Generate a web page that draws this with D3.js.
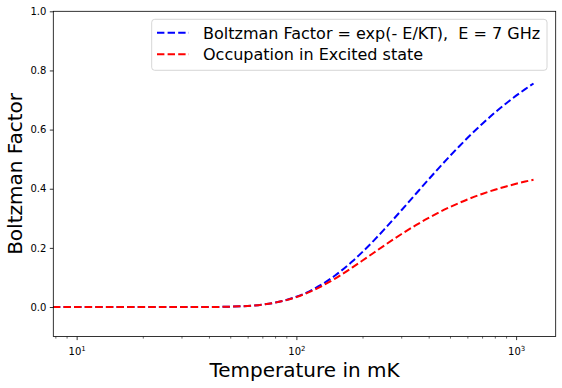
<!DOCTYPE html>
<html><head><meta charset="utf-8">
<script src="https://cdn.jsdelivr.net/npm/d3@7"></script>
<style>body{margin:0;background:#fff}svg{display:block}text{font-family:"DejaVu Sans",sans-serif}</style>
</head><body>
<svg id="c" width="562" height="388"></svg>
<script>
const temperatures = [5,6,7,8,9,10,12,15,20,25,30,40,50,60,70,80,90,100,110,120,130,140,150,160,180,200,225,250,275,300,350,400,450,500,550,600,700,800,900,1000,1100,1200];
const boltzmann = [0,0,0,0,0,0,0,0,0,0,0.00001,0.000225,0.00121,0.0037,0.00824,0.015,0.0239,0.0348,0.0472,0.0609,0.0755,0.0908,0.1065,0.1226,0.1547,0.1865,0.2247,0.2609,0.2948,0.3264,0.383,0.4318,0.4741,0.5108,0.5429,0.5713,0.6188,0.6571,0.6885,0.7147,0.7368,0.7558];
const occupation = [0,0,0,0,0,0,0,0,0,0,0.00001,0.000225,0.00121,0.00369,0.00817,0.0148,0.0233,0.0336,0.0451,0.0574,0.0702,0.0832,0.0963,0.1092,0.134,0.1572,0.1835,0.2069,0.2277,0.2461,0.2769,0.3016,0.3216,0.3381,0.3519,0.3636,0.3823,0.3965,0.4077,0.4168,0.4242,0.4305];
const yTicks = [0.0,0.2,0.4,0.6,0.8,1.0];
const xMajorTicks = [10,100,1000];
const xExponents = ["1","2","3"];
const seriesNames = ["Boltzman Factor = exp(- E/KT),  E = 7 GHz","Occupation in Excited state"];
const seriesColors = ["#0000ff","#ff0000"];
const xDomain = [7.83,1514];
const yDomain = [-0.1,1.0];

const svg = d3.select("#c");
const L=53.3,R=555.7,T=11.3,B=336.6;
const x = d3.scaleLog().domain(xDomain).range([L,R]);
const y = d3.scaleLinear().domain(yDomain).range([B,T]);

svg.append("clipPath").attr("id","clip").append("rect").attr("x",L).attr("y",T).attr("width",R-L).attr("height",B-T);

const line = d3.line().x((d,i)=>x(temperatures[i])).y(d=>y(d)).curve(d3.curveMonotoneX);
[boltzmann,occupation].forEach((s,k)=>{
  svg.append("path").attr("d",line(s)).attr("fill","none").attr("stroke",seriesColors[k])
    .attr("stroke-width",2).attr("stroke-dasharray","7.4,3.2").attr("clip-path","url(#clip)");
});

// y axis
const ya = svg.append("g").attr("transform",`translate(${L},0)`)
  .call(d3.axisLeft(y).tickValues(yTicks).tickFormat(d3.format(".1f")).tickSize(3.5).tickPadding(3.5));
ya.select(".domain").remove();
ya.selectAll("text").attr("font-size",10).attr("fill","#000").attr("font-family","DejaVu Sans");
ya.selectAll("line").attr("stroke","#000").attr("stroke-width",0.8);

// x axis minor
const minor=[];
[1,10,100,1000].forEach(p=>{for(let m=2;m<=9;m++){const v=p*m;if(v>=xDomain[0]&&v<=xDomain[1])minor.push(v);}});
const xm = svg.append("g").attr("transform",`translate(0,${B})`)
  .call(d3.axisBottom(x).tickValues(minor).tickFormat("").tickSize(2));
xm.select(".domain").remove();
xm.selectAll("line").attr("stroke","#000").attr("stroke-width",0.6);
const xa = svg.append("g").attr("transform",`translate(0,${B})`)
  .call(d3.axisBottom(x).tickValues(xMajorTicks).tickFormat("").tickSize(3.5));
xa.select(".domain").remove();
xa.selectAll("line").attr("stroke","#000").attr("stroke-width",0.8);
xa.selectAll(".tick").each(function(d,i){
  const t=d3.select(this).append("text").attr("y",18.5).attr("text-anchor","middle").attr("font-size",10).attr("fill","#000");
  t.append("tspan").text("10");
  t.append("tspan").attr("dy",-4).attr("font-size",7).text(xExponents[i]);
});

svg.append("rect").attr("x",L).attr("y",T).attr("width",R-L).attr("height",B-T).attr("fill","none").attr("stroke","#000").attr("stroke-width",0.8);

// labels
svg.append("text").attr("x",(L+R)/2).attr("y",377).attr("text-anchor","middle").attr("font-size",20).attr("fill","#000").text("Temperature in mK");
svg.append("text").attr("transform",`translate(21.5,${(T+B)/2}) rotate(-90)`).attr("text-anchor","middle").attr("font-size",20).attr("fill","#000").text("Boltzman Factor");

// legend
const lg = svg.append("g");
lg.append("rect").attr("x",151.7).attr("y",19.3).attr("width",395.3).attr("height",51).attr("rx",3)
  .attr("fill","#fff").attr("fill-opacity",0.8).attr("stroke","#cccccc").attr("stroke-width",0.8);
seriesNames.forEach((n,k)=>{
  const yy = 32.7 + k*21.5;
  lg.append("line").attr("x1",157).attr("x2",189).attr("y1",yy).attr("y2",yy).attr("stroke",seriesColors[k]).attr("stroke-width",2).attr("stroke-dasharray","7.4,3.2");
  lg.append("text").attr("x",203).attr("y",yy+5.8).attr("font-size",16).attr("fill","#000").attr("xml:space","preserve").style("white-space","pre").text(n);
});
</script>
</body></html>
